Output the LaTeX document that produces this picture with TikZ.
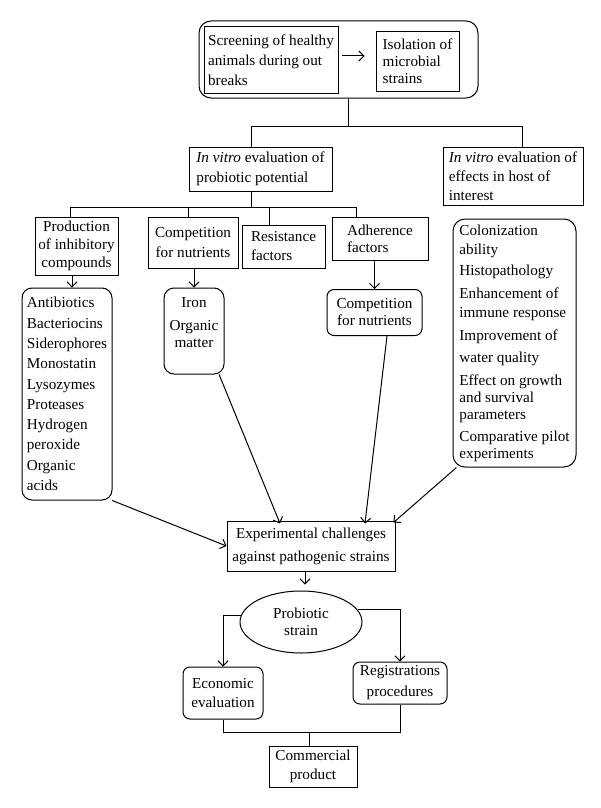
\documentclass[tikz,border=0pt]{standalone}
\usepackage{fontspec}
\setmainfont{Liberation Serif}
\usetikzlibrary{arrows.meta,shapes.geometric}
\begin{document}
\begin{tikzpicture}[x=1pt,y=-1pt,
  fs/.style={font=\fontsize{15.2}{#1}\selectfont},
  every node/.style={fs=19, inner sep=0pt},
  box/.style={draw, line width=1pt},
  rbox/.style={draw, line width=1pt, rounded corners=#1},
  rbox/.default=7pt,
  ln/.style={line width=1pt},
  arr/.style={line width=1pt, -{Straight Barb[length=5pt,width=10pt]}},
]
\fill[white] (0,0) rectangle (600,808);
\useasboundingbox (0,0) rectangle (600,808);

% top group
\node[rbox=12pt, minimum width=279pt, minimum height=77pt] (outer) at (338.5,59.5) {};
\node[box, minimum width=134pt, minimum height=66pt, align=left, fs=20] (screen) at (271,60) {Screening of healthy\\animals during out\\breaks};
\node[box, minimum width=83pt, minimum height=59pt, align=left, fs=17] (isol) at (417.5,61.5) {Isolation of\\microbial\\strains};

% in vitro
\node[box, minimum width=143pt, minimum height=44pt, align=left, fs=20] (invitro1) at (260.5,169) {\textit{In vitro} evaluation of\\probiotic potential};
\node[box, minimum width=140pt, minimum height=58pt, align=left, fs=19] (invitro2) at (513,176) {\textit{In vitro} evaluation of\\effects in host of\\interest};

% second row
\node[box, minimum width=83pt, minimum height=58pt, align=center, fs=18] (prod) at (76.5,246) {Production\\of inhibitory\\compounds};
\node[box, minimum width=90pt, minimum height=51pt, align=center, fs=20] (comp1) at (193,242.5) {Competition\\for nutrients};
\node[box, minimum width=83pt, minimum height=43pt, align=left, fs=19] (resist) at (283.5,246.5) {Resistance\\factors};
\node[box, minimum width=96pt, minimum height=43pt, align=left, fs=17] (adher) at (380,238.5) {Adherence\\factors};

% lists
\node[rbox=10pt, minimum width=90pt, minimum height=212pt, align=left, fs=20.3] (antib) at (67,394) {Antibiotics\\Bacteriocins\\Siderophores\\Monostatin\\Lysozymes\\Proteases\\Hydrogen\\peroxide\\Organic\\acids};
\node[rbox=10pt, minimum width=60pt, minimum height=86pt] (iron) at (194,331) {};
\node[align=center, fs=17] (irontext) at (194,323) {Iron\\[6pt]Organic\\matter};
\node[rbox=7pt, minimum width=95pt, minimum height=46pt, align=center, fs=17] (comp2) at (374.5,312.5) {Competition\\for nutrients};
\node[rbox=12pt, minimum width=123pt, minimum height=248pt, align=left, fs=17] (rlist) at (514.5,343) {Colonization\\[2pt]ability\\[4pt]Histopathology\\[6pt]Enhancement of\\[2pt]immune response\\[6pt]Improvement of\\[5pt]water quality\\[6pt]Effect on growth\\and survival\\parameters\\[5pt]Comparative pilot\\experiments};

% lower part
\node[box, minimum width=168pt, minimum height=50pt, align=center, fs=23] (exper) at (311,546) {Experimental challenges\\against pathogenic strains};
\node[draw, line width=1pt, ellipse, minimum width=122pt, minimum height=62pt, align=center, fs=17] (prob) at (301,622) {Probiotic\\strain};
\node[rbox=7pt, minimum width=80pt, minimum height=52pt, align=center, fs=19] (econ) at (223,693) {Economic\\evaluation};
\node[rbox=7pt, minimum width=94pt, minimum height=42pt, align=center, fs=21] (regis) at (400,683) {Registrations\\procedures};
\node[box, minimum width=88pt, minimum height=41pt, align=center, fs=19] (comm) at (313,766.5) {Commercial\\product};

% connectors top
\draw[arr] ([xshift=3pt,yshift=4pt]screen.east) -- ([xshift=-11pt,yshift=4pt]screen.east -| isol.west);
\coordinate (t0) at (348,126);
\coordinate (tL) at (251,126);
\coordinate (tR) at (522,126);
\draw[ln] (outer.south -| t0) -- (t0);
\draw[ln] (invitro1.north -| tL) -- (tL) -- (tR) -- (invitro2.north -| tR);

\coordinate (b0) at (251,207);
\coordinate (bL) at (70,207);
\coordinate (bC) at (188,207);
\coordinate (bS) at (269,207);
\coordinate (bR) at (356,207);
\draw[ln] (invitro1.south -| b0) -- (b0);
\draw[ln] (prod.north -| bL) -- (bL) -- (bR) -- (adher.north -| bR);
\draw[ln] (comp1.north -| bC) -- (bC);
\draw[ln] (resist.north -| bS) -- (bS);

% arrows to lists
\coordinate (aP) at (72,0);
\draw[arr] (prod.south -| aP) -- (antib.north -| aP);
\draw[arr] (comp1.south -| iron.north) -- (iron.north);
\draw[arr] (adher.south -| comp2.north) -- (comp2.north);

% arrows to experimental
\coordinate (xI) at (280,0);
\coordinate (xC) at (387,0);
\coordinate (xC2) at (365,0);
\coordinate (xE) at (305,0);
\draw[arr] (antib.-67) -- (exper.west);
\draw[arr] (iron.-60) -- ([yshift=-3pt]exper.north -| xI);
\draw[arr] (comp2.south -| xC) -- ([yshift=-3pt]exper.north -| xC2);
\draw[arr] (rlist.-115) -- ([xshift=-2pt,yshift=-2pt]exper.north east);

% lower connectors
\draw[arr, shorten >=6pt] (exper.south -| xE) -- (prob.north -| xE);
\draw[arr] (prob.174) -- (prob.174 -| econ.north) -- (econ.north);
\draw[arr] (prob.12) -- (prob.12 -| regis.north) -- (regis.north);
\coordinate (jB) at (309,732);
\draw[ln] (econ.south) -- (econ.south |- jB) -- (regis.south |- jB) -- (regis.south);
\draw[ln] (comm.north -| jB) -- (jB);
\end{tikzpicture}
\end{document}
